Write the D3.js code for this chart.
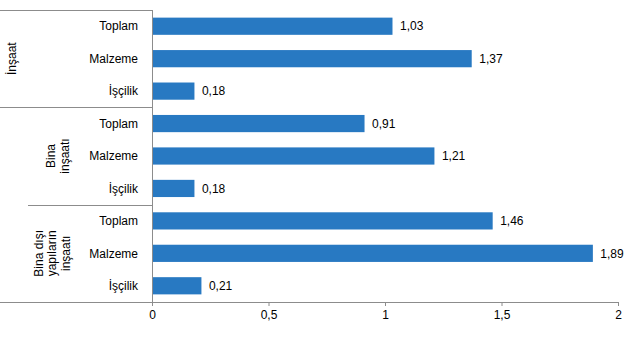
<!DOCTYPE html>
<html><head><meta charset="utf-8">
<script src="https://cdn.jsdelivr.net/npm/d3@7"></script>
<style>body{margin:0;background:#fff}svg{display:block}text{font-family:"Liberation Sans",Arial,sans-serif;fill:#000}</style>
</head><body><svg id="c" width="643" height="338"></svg>
<script>
const groups = [["İnşaat"], ["Bina", "inşaatı"], ["Bina dışı", "yapıların", "inşaatı"]];
const categories = ["Toplam", "Malzeme", "İşçilik"];
const values = [[1.03, 1.37, 0.18], [0.91, 1.21, 0.18], [1.46, 1.89, 0.21]];
const xTicks = [0, 0.5, 1, 1.5, 2];
const fmt = v => String(v).replace(".", ",");

(function () {
const svg = d3.select("#c");
const pLeft = 152, pRight = 618, pTop = 10, pBottom = 302;
const rows = [];
groups.forEach((g, gi) => categories.forEach((c, ci) => rows.push({key: gi + "-" + ci, g: gi, cat: c, v: values[gi][ci]})));

const x = d3.scaleLinear().domain([0, 2]).range([pLeft, pRight]);
const y = d3.scaleBand().domain(rows.map(r => r.key)).range([pTop, pBottom]).paddingInner(0.47).paddingOuter(0.235);
const gy = d3.scaleBand().domain(groups.map((g, i) => i)).range([pTop, pBottom]);

const grey = "#8c8c8c";
svg.selectAll("rect.bar").data(rows).join("rect").attr("class", "bar")
  .attr("x", x(0) + 0.5).attr("y", r => y(r.key))
  .attr("width", r => x(r.v) - x(0)).attr("height", y.bandwidth())
  .attr("fill", "#2879c2");
svg.selectAll("text.val").data(rows).join("text").attr("class", "val")
  .attr("x", r => x(r.v) + 8).attr("y", r => y(r.key) + y.bandwidth() / 2)
  .attr("dy", "0.35em").attr("font-size", 12).text(r => fmt(r.v));
svg.selectAll("text.cat").data(rows).join("text").attr("class", "cat")
  .attr("x", 138).attr("y", r => y(r.key) + y.bandwidth() / 2)
  .attr("dy", "0.35em").attr("text-anchor", "end").attr("font-size", 12).text(r => r.cat);

const xa = svg.append("g").attr("transform", `translate(0,${pBottom})`)
  .call(d3.axisBottom(x).tickValues(xTicks).tickFormat(fmt).tickSize(4).tickPadding(4));
xa.select(".domain").attr("stroke", grey);
xa.selectAll(".tick line").attr("stroke", grey);
xa.selectAll(".tick text").attr("font-size", 12).attr("font-family", "Liberation Sans, Arial, sans-serif").attr("fill", "#000");

svg.append("line").attr("x1", pLeft + 0.5).attr("x2", pLeft + 0.5).attr("y1", pTop).attr("y2", pBottom + 4).attr("stroke", grey);
const sepStarts = [0, 0, 28, 0];
[0, 1, 2, 3].forEach(i => {
  const yy = Math.round(i < 3 ? gy(i) : pBottom) + 0.5;
  svg.append("line").attr("x1", sepStarts[i]).attr("x2", pLeft).attr("y1", yy).attr("y2", yy).attr("stroke", grey);
});

const gx = [12, 58, 52];
groups.forEach((lines, gi) => {
  const cy = gy(gi) + gy.bandwidth() / 2;
  const lh = 13.5;
  const t = svg.append("text").attr("transform", `translate(${gx[gi]},${cy}) rotate(-90)`)
    .attr("text-anchor", "middle").attr("font-size", 12);
  lines.forEach((l, li) => {
    t.append("tspan").attr("x", 0).attr("y", (li - (lines.length - 1) / 2) * lh).attr("dy", "0.35em").text(l);
  });
});
})();
</script></body></html>
